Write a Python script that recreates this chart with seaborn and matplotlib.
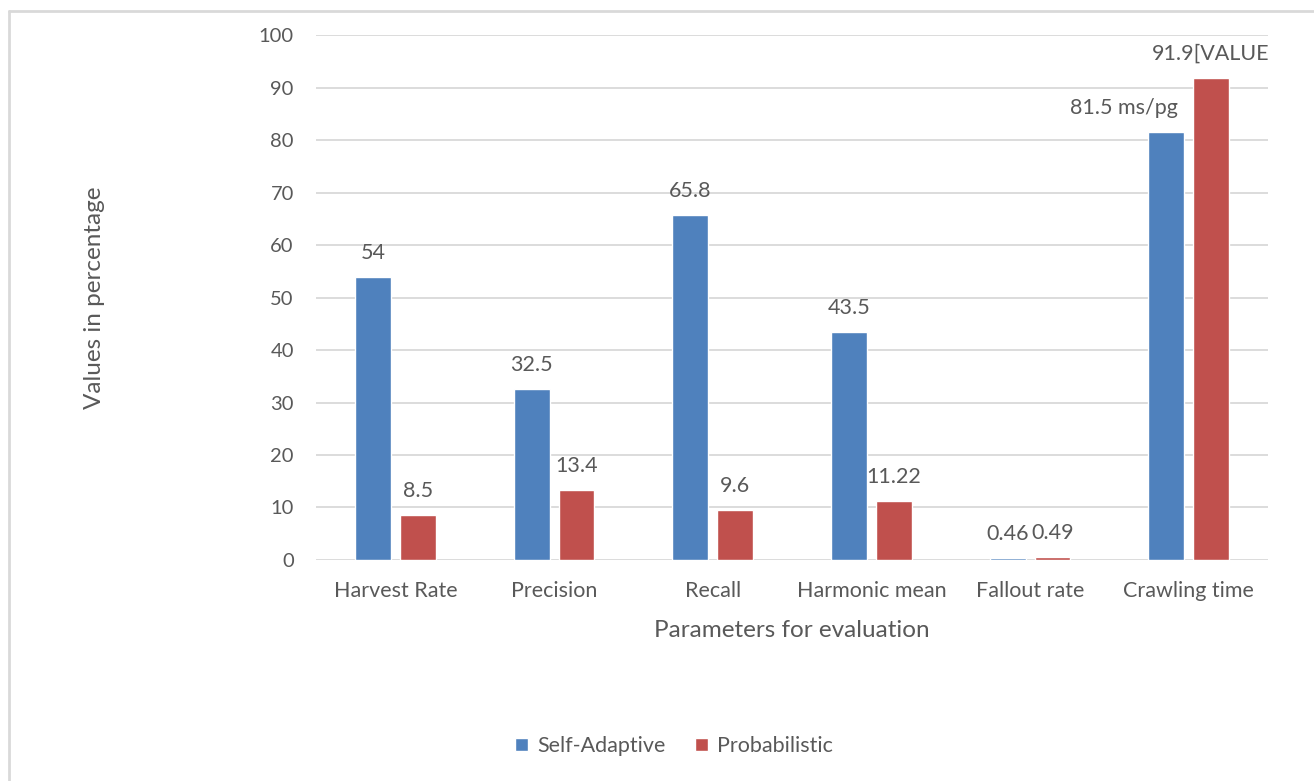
import matplotlib
matplotlib.use("Agg")
import matplotlib.pyplot as plt
from matplotlib.lines import Line2D
import seaborn as sns
import pandas as pd

# Evaluation parameters and scores for the two crawling strategies
categories = ["Harvest Rate", "Precision", "Recall", "Harmonic mean",
              "Fallout rate", "Crawling time"]
self_adaptive = [54, 32.5, 65.8, 43.5, 0.46, 81.5]
probabilistic = [8.5, 13.4, 9.6, 11.22, 0.49, 91.9]
self_adaptive_labels = ["54", "32.5", "65.8", "43.5", "0.46", "81.5 ms/pg"]
probabilistic_labels = ["8.5", "13.4", "9.6", "11.22", "0.49", "91.9[VALUE"]
series_names = ["Self-Adaptive", "Probabilistic"]
y_ticks = list(range(0, 101, 10))

df = pd.DataFrame({
    "Parameter": categories * 2,
    "Value": self_adaptive + probabilistic,
    "Series": [series_names[0]] * len(categories) + [series_names[1]] * len(categories),
})

sns.set_theme(style="white")
plt.rcParams["font.family"] = ["Lato", "DejaVu Sans"]
text_color = "#595959"
grid_color = "#D9D9D9"
palette = {"Self-Adaptive": "#4F81BD", "Probabilistic": "#C0504D"}

fig = plt.figure(figsize=(13.14, 7.81), dpi=100)
ax = fig.add_axes([0.2405, 0.283, 0.7245, 0.672])

sns.barplot(data=df, x="Parameter", y="Value", hue="Series", palette=palette,
            width=0.567, gap=0.2, saturation=1, ax=ax, legend=True)

ax.set_ylim(0, 100)
ax.set_yticks(y_ticks)
ax.yaxis.grid(True, color=grid_color, linewidth=1.3)
ax.set_axisbelow(True)
for s in ax.spines.values():
    s.set_visible(False)
ax.tick_params(axis="both", length=0, colors=text_color)
ax.tick_params(axis="y", pad=16, labelsize=14.5)
ax.tick_params(axis="x", pad=15, labelsize=15.5)
ax.set_xlabel("Parameters for evaluation", fontsize=17.5, color=text_color, labelpad=14)
ax.set_ylabel("Values in percentage", fontsize=17.5, color=text_color)
ax.yaxis.set_label_coords(-0.222, 0.5)

# value labels above bars
for container, labels in zip(ax.containers, [self_adaptive_labels, probabilistic_labels]):
    for bar, lab in zip(container, labels):
        x = bar.get_x() + bar.get_width() / 2
        y = bar.get_height()
        dx = 0
        if lab.endswith("ms/pg"):
            dx = -42
        ax.annotate(lab, (x, y), xytext=(dx, 14), textcoords="offset pixels",
                    ha="center", va="bottom", fontsize=15.5, color=text_color)

# legend beneath the plot
leg = ax.legend(loc="center", bbox_to_anchor=(674 / 1314, 1 - 746 / 781),
                bbox_transform=fig.transFigure, ncol=2, frameon=False,
                fontsize=15.5, handlelength=0.6, handleheight=0.6,
                handletextpad=0.4, columnspacing=1.4)
for t in leg.get_texts():
    t.set_color(text_color)

# light outer frame
fig.add_artist(Line2D([9 / 1314, 9 / 1314], [0, 1 - 11 / 781], transform=fig.transFigure,
                      color=grid_color, linewidth=2))
fig.add_artist(Line2D([9 / 1314, 1], [1 - 11 / 781, 1 - 11 / 781], transform=fig.transFigure,
                      color=grid_color, linewidth=2))

fig.savefig("out.png", dpi=100, facecolor="white")
